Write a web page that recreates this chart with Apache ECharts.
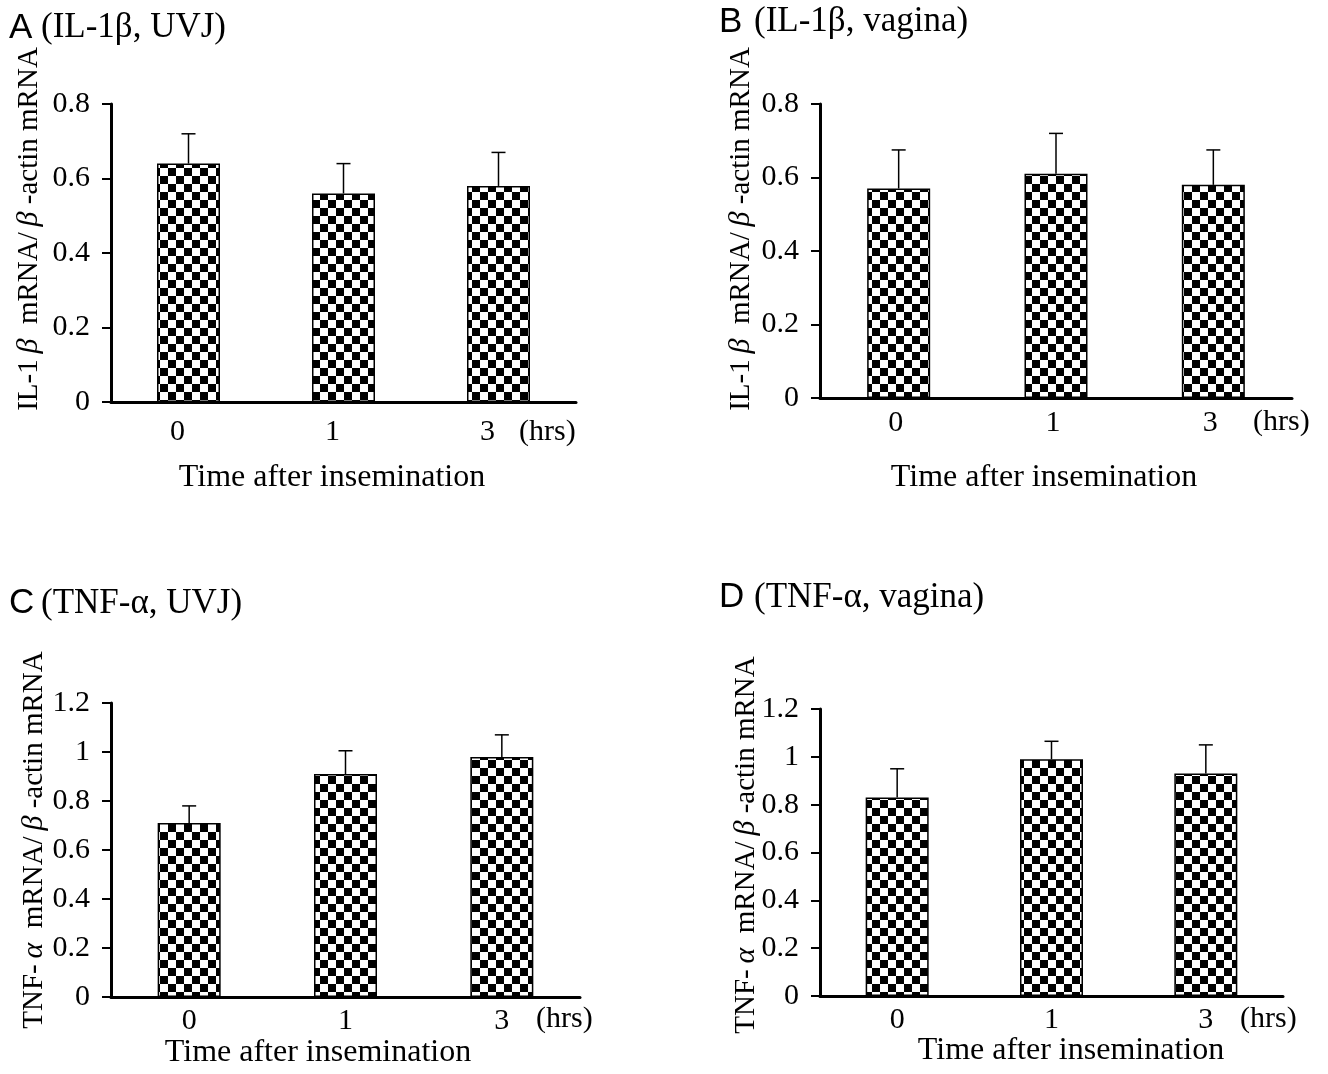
<!DOCTYPE html>
<html>
<head>
<meta charset="utf-8">
<script src="https://cdn.jsdelivr.net/npm/echarts@6/dist/echarts.min.js"></script>
<style>
html,body{margin:0;padding:0;background:#fff;}
#main{width:1328px;height:1074px;}
</style>
</head>
<body>
<div id="main"></div>
<script>
// ---- data ----
const categories = ['0', '1', '3'];
const il1bUvjMean = [0.64, 0.56, 0.58];
const il1bUvjSem  = [0.08, 0.08, 0.09];
const il1bVagMean = [0.57, 0.61, 0.58];
const il1bVagSem  = [0.105, 0.11, 0.095];
const tnfUvjMean  = [0.71, 0.91, 0.98];
const tnfUvjSem   = [0.07, 0.095, 0.09];
const tnfVagMean  = [0.83, 0.99, 0.93];
const tnfVagSem   = [0.12, 0.075, 0.12];
const il1bAxisMax = 0.8;
const tnfAxisMax  = 1.2;
const axisInterval = 0.2;
const panelLetters = ['A', 'B', 'C', 'D'];
const panelTitles = ['(IL-1β, UVJ)', '(IL-1β, vagina)', '(TNF-α, UVJ)', '(TNF-α, vagina)'];
const xName = 'Time after insemination';
const unitLabel = '(hrs)';

// ---- checkerboard pattern ----
const SQ = 8;
const pat = document.createElement('canvas');
pat.width = SQ * 2; pat.height = SQ * 2;
const pctx = pat.getContext('2d');
pctx.fillStyle = '#fff'; pctx.fillRect(0, 0, SQ * 2, SQ * 2);
pctx.fillStyle = '#000'; pctx.fillRect(0, 0, SQ, SQ); pctx.fillRect(SQ, SQ, SQ, SQ);

const SERIF = "'Liberation Serif', 'Times New Roman', serif";
const SANS = "'Liberation Sans', Arial, sans-serif";

const panels = [
  {mean: il1bUvjMean, sem: il1bUvjSem, max: il1bAxisMax, grid: {left: 111, top: 104, width: 465, height: 298}, labelMargin: 15, labelPad: [0, 22, 0, 0]},
  {mean: il1bVagMean, sem: il1bVagSem, max: il1bAxisMax, grid: {left: 820, top: 104, width: 472, height: 294}, labelMargin: 10, labelPad: [0, 6, 0, 0]},
  {mean: tnfUvjMean, sem: tnfUvjSem, max: tnfAxisMax, grid: {left: 111, top: 703, width: 469, height: 294}, labelMargin: 9, labelPad: 0},
  {mean: tnfVagMean, sem: tnfVagSem, max: tnfAxisMax, grid: {left: 820, top: 709, width: 463, height: 287}, labelMargin: 9, labelPad: 0}
];

const grids = [], xAxes = [], yAxes = [], series = [];
panels.forEach((p, i) => {
  grids.push(Object.assign({containLabel: false}, p.grid));
  xAxes.push({
    type: 'category', gridIndex: i, data: categories,
    axisLine: {lineStyle: {color: '#000', width: 3}},
    axisTick: {show: false},
    axisLabel: {color: '#000', fontFamily: SERIF, fontSize: 30, margin: p.labelMargin, padding: p.labelPad}
  });
  yAxes.push({
    type: 'value', gridIndex: i, min: 0, max: p.max, interval: axisInterval,
    splitLine: {show: false},
    axisLine: {show: true, lineStyle: {color: '#000', width: 3}},
    axisTick: {show: true, inside: false, length: 9, lineStyle: {color: '#000', width: 2}},
    axisLabel: {color: '#000', fontFamily: SERIF, fontSize: 30, margin: 21}
  });
  series.push({
    type: 'bar', xAxisIndex: i, yAxisIndex: i, data: p.mean,
    barWidth: 63,
    itemStyle: {color: {image: pat, repeat: 'repeat'}, borderColor: '#000', borderWidth: 1.5},
    silent: true, z: 2
  });
  series.push({
    type: 'custom', xAxisIndex: i, yAxisIndex: i, z: 3, silent: true,
    data: categories.map((c, k) => [k, p.mean[k], p.mean[k] + p.sem[k]]),
    encode: {x: 0, y: [1, 2]},
    renderItem: function (params, api) {
      const base = api.coord([api.value(0), api.value(1)]);
      const top = api.coord([api.value(0), api.value(2)]);
      const st = {stroke: '#000', lineWidth: 1.5};
      return {type: 'group', children: [
        {type: 'line', shape: {x1: base[0], y1: base[1], x2: top[0], y2: top[1]}, style: st},
        {type: 'line', shape: {x1: top[0] - 7, y1: top[1], x2: top[0] + 7, y2: top[1]}, style: st}
      ]};
    }
  });
});

function txt(x, y, text, opt) {
  return {type: 'text', x: x, y: y, style: Object.assign({text: text, fill: '#000', font: '32px ' + SERIF, textAlign: 'left', textVerticalAlign: 'middle'}, opt || {})};
}
function yName(x, y, greek) {
  return {
    type: 'text', x: x, y: y, rotation: Math.PI / 2,
    style: {
      text: (greek === 'b' ? '{n|IL-1\u2009}{i|β}' : '{n|TNF-\u2009}{i|α}') + '{n|  mRNA/\u2009}{i|β}{n| -actin mRNA}',
      rich: {
        n: {fontFamily: SERIF, fontSize: 29, fill: '#000'},
        i: {fontFamily: SERIF, fontSize: 30, fontStyle: 'italic', fill: '#000'}
      },
      textAlign: 'center', textVerticalAlign: 'middle'
    }
  };
}

const graphics = [
  // panel letters and titles
  txt(9, 28, panelLetters[0], {font: '35px ' + SANS}),
  txt(41, 28, panelTitles[0], {font: '35px ' + SERIF}),
  txt(719, 22, panelLetters[1], {font: '35px ' + SANS}),
  txt(754, 22, panelTitles[1], {font: '35px ' + SERIF}),
  txt(9, 603, panelLetters[2], {font: '35px ' + SANS}),
  txt(41, 604, panelTitles[2], {font: '35px ' + SERIF}),
  txt(719, 597, panelLetters[3], {font: '35px ' + SANS}),
  txt(754, 598, panelTitles[3], {font: '35px ' + SERIF}),
  // x names
  txt(332, 478, xName, {textAlign: 'center'}),
  txt(1044, 478, xName, {textAlign: 'center'}),
  txt(318, 1053, xName, {textAlign: 'center'}),
  txt(1071, 1051, xName, {textAlign: 'center'}),
  // units
  txt(519, 432, unitLabel, {font: '30px ' + SERIF}),
  txt(1253, 422, unitLabel, {font: '30px ' + SERIF}),
  txt(536, 1019, unitLabel, {font: '30px ' + SERIF}),
  txt(1240, 1019, unitLabel, {font: '30px ' + SERIF}),
  // y names
  yName(29, 229, 'b'),
  yName(741, 229, 'b'),
  yName(34, 840, 'a'),
  yName(746, 845, 'a')
];

const chart = echarts.init(document.getElementById('main'), null, {renderer: 'canvas'});
chart.setOption({
  animation: false,
  backgroundColor: '#fff',
  grid: grids, xAxis: xAxes, yAxis: yAxes, series: series,
  graphic: graphics
});
</script>
</body>
</html>
